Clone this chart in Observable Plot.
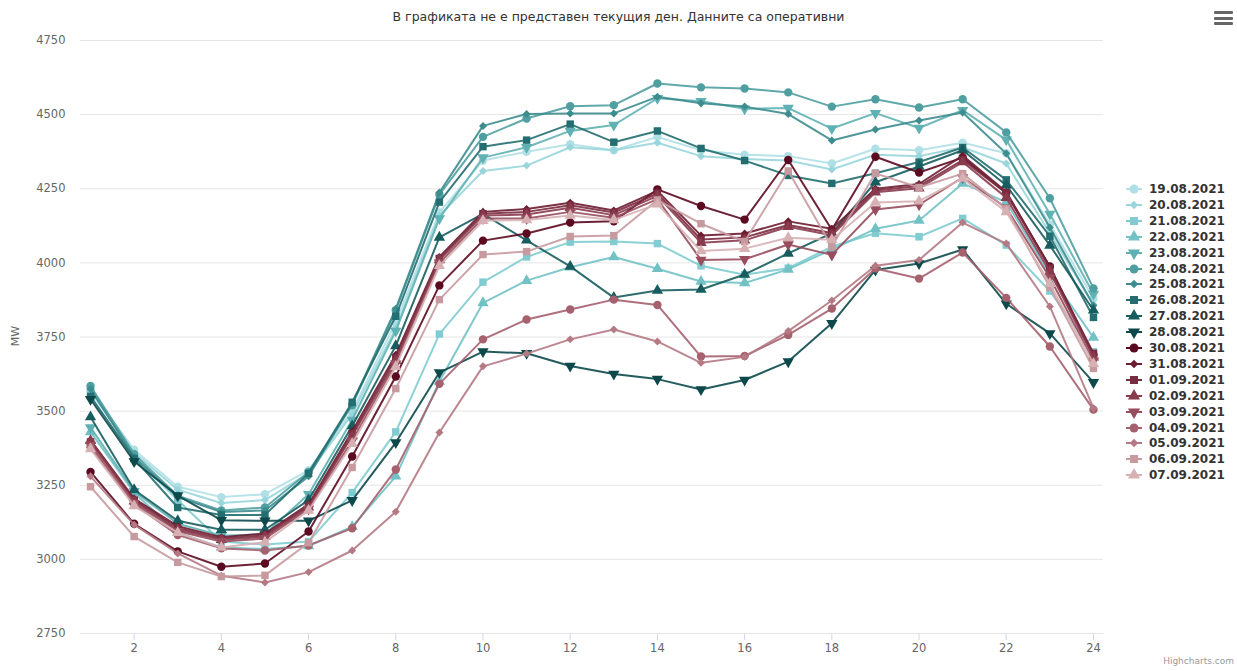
<!DOCTYPE html>
<html><head><meta charset="utf-8">
<script src="https://cdn.jsdelivr.net/npm/d3@7"></script>
<script src="https://cdn.jsdelivr.net/npm/@observablehq/plot@0.6"></script>
<style>
body{margin:0;background:#fff;font-family:"DejaVu Sans",sans-serif;}
#wrap{position:relative;width:1237px;height:671px;overflow:hidden;background:#fff;}
#chart{position:absolute;left:0;top:0;}
#title{position:absolute;left:0;width:1237px;top:9px;text-align:center;font-size:12.5px;color:#333;}
#ylab{position:absolute;left:15px;top:336px;transform:translate(-50%,-50%) rotate(-90deg);font-size:11px;color:#666;}
#menu{position:absolute;left:1214px;top:11px;width:19px;}
#menu div{height:3px;background:#666;margin-bottom:2.5px;border-radius:1px;}
#credit{position:absolute;right:3px;top:656px;font-size:9px;color:#999;}
.lg{position:absolute;left:1124px;height:16px;display:flex;align-items:center;font-weight:bold;font-size:12px;color:#333;white-space:nowrap;}
.lg svg{margin-right:5px;}
[aria-label="x-axis tick"] path{stroke:#ccd6eb;}
</style></head><body>
<div id="wrap">
<div id="chart"></div>
<div id="title">В графиката не е представен текущия ден. Данните са оперативни</div>
<div id="ylab">MW</div>
<div id="menu"><div></div><div></div><div></div></div>
<div id="legend"></div>
<div id="credit">Highcharts.com</div>
</div>
<script>
const hours = [1,2,3,4,5,6,7,8,9,10,11,12,13,14,15,16,17,18,19,20,21,22,23,24];
const yTicks = [2750,3000,3250,3500,3750,4000,4250,4500,4750];
const xTicks = [2,4,6,8,10,12,14,16,18,20,22,24];
const seriesNames = ["19.08.2021","20.08.2021","21.08.2021","22.08.2021","23.08.2021","24.08.2021","25.08.2021","26.08.2021","27.08.2021","28.08.2021","30.08.2021","31.08.2021","01.09.2021","02.09.2021","03.09.2021","04.09.2021","05.09.2021","06.09.2021","07.09.2021"];

const d19_08 = [3570,3370,3245,3210,3220,3300,3500,3800,4170,4345,4375,4400,4380,4425,4380,4365,4360,4335,4385,4380,4405,4370,4130,3880];
const d20_08 = [3565,3360,3235,3190,3200,3290,3490,3780,4160,4310,4328,4390,4380,4405,4360,4350,4345,4315,4365,4360,4390,4335,4100,3860];
const d21_08 = [3575,3345,3200,3060,3050,3060,3225,3430,3760,3935,4020,4070,4072,4065,3990,3960,3982,4055,4100,4088,4150,4060,3905,3700];
const d22_08 = [3430,3225,3090,3040,3035,3045,3110,3280,3600,3865,3940,3985,4020,3980,3937,3932,3978,4045,4115,4143,4268,4205,3960,3748];
const d23_08 = [3445,3230,3120,3080,3085,3220,3470,3770,4150,4355,4390,4445,4465,4555,4545,4520,4522,4453,4505,4455,4515,4415,4165,3895];
const d24_08 = [3585,3355,3215,3165,3175,3295,3520,3840,4230,4425,4487,4528,4532,4605,4592,4588,4575,4527,4552,4524,4552,4440,4218,3914];
const d25_08 = [3575,3345,3210,3160,3165,3280,3525,3845,4237,4462,4502,4504,4504,4560,4538,4527,4502,4413,4450,4480,4507,4369,4119,3856];
const d26_08 = [3550,3340,3175,3150,3150,3290,3530,3820,4205,4392,4414,4468,4407,4445,4386,4345,4295,4268,4302,4340,4389,4280,4090,3816];
const d27_08 = [3480,3235,3130,3100,3100,3200,3450,3720,4086,4165,4076,3988,3883,3907,3910,3961,4032,4100,4272,4325,4380,4262,4059,3840];
const d28_08 = [3540,3330,3215,3132,3130,3130,3199,3394,3630,3701,3695,3652,3625,3608,3573,3605,3667,3796,3976,3998,4045,3862,3762,3597];
const d30_08 = [3295,3120,3027,2975,2986,3094,3347,3617,3924,4075,4099,4136,4140,4248,4192,4146,4347,4112,4358,4305,4355,4235,3988,3690];
const d31_08 = [3402,3205,3112,3075,3087,3186,3432,3690,4020,4172,4182,4203,4177,4243,4092,4099,4140,4115,4250,4266,4362,4240,3985,3686];
const d01_09 = [3396,3200,3106,3070,3081,3181,3422,3680,4015,4166,4172,4194,4170,4234,4079,4086,4128,4101,4244,4259,4347,4236,3982,3695];
const d02_09 = [3400,3196,3100,3066,3076,3176,3416,3670,4010,4160,4163,4186,4161,4226,4068,4076,4122,4093,4238,4252,4340,4220,3970,3682];
const d03_09 = [3386,3190,3095,3060,3070,3170,3400,3660,4000,4150,4150,4172,4152,4215,4010,4012,4062,4027,4180,4196,4288,4186,3950,3670];
const d04_09 = [3378,3186,3082,3037,3030,3047,3105,3303,3592,3742,3809,3843,3876,3858,3684,3686,3757,3846,3981,3947,4035,3882,3718,3505];
const d05_09 = [3280,3117,3020,2945,2922,2957,3030,3161,3428,3651,3694,3742,3775,3735,3663,3683,3770,3873,3990,4010,4136,4065,3853,3510];
const d06_09 = [3245,3077,2990,2942,2946,3056,3310,3576,3876,4028,4038,4089,4092,4212,4132,4072,4310,4055,4302,4254,4301,4183,3918,3644];
const d07_09 = [3372,3180,3090,3040,3058,3165,3390,3650,3990,4142,4145,4160,4145,4198,4040,4048,4085,4078,4204,4208,4285,4172,3930,3660];

const seriesValues = [d19_08,d20_08,d21_08,d22_08,d23_08,d24_08,d25_08,d26_08,d27_08,d28_08,d30_08,d31_08,d01_09,d02_09,d03_09,d04_09,d05_09,d06_09,d07_09];

// styles
const colors = ["#b0e0e5","#98d6db","#80ccd1","#72c2c5","#60b1b3","#4f9fa1","#3d8c8e","#236e70","#175c5e","#0d494b","#5c0a20","#6d1b30","#7b2b3f","#893b4e","#974d5d","#a5616e","#b47983","#c79aa0","#d7b0b4"];
const symbolCycle = ["circle","diamond2","square","triangle","triangle-down"];

const marks = [Plot.ruleY(yTicks, {stroke:"#e6e6e6", strokeWidth:1})];
seriesNames.forEach((name, i) => {
  const rows = hours.map((h, j) => ({hour: h, v: seriesValues[i][j]}));
  const s = symbolCycle[i % 5];
  const sym = s === "triangle-down" ? "triangle" : s;
  const rot = s === "triangle-down" ? 180 : 0;
  marks.push(Plot.line(rows, {x:"hour", y:"v", stroke: colors[i], strokeWidth: 2, strokeOpacity: 0.9}));
  marks.push(Plot.dot(rows, {x:"hour", y:"v", fill: colors[i], stroke: "none", r: s === "diamond2" ? 3.6 : 4.2, symbol: sym, rotate: rot}));
});

const chart = Plot.plot({
  width: 1237, height: 671,
  marginLeft: 80, marginRight: 134, marginTop: 40, marginBottom: 38,
  style: {fontSize: "11.5px", color: "#666", fontFamily: "DejaVu Sans, sans-serif", background: "transparent"},
  x: {domain: [0.77, 24.23], ticks: xTicks, tickSize: 7, tickPadding: 3, label: null, tickFormat: d => String(d)},
  y: {domain: [2750, 4750], ticks: yTicks, tickSize: 0, tickPadding: 15, label: null, tickFormat: d => String(d)},
  marks
});
document.getElementById("chart").appendChild(chart);

// legend
const lg = d3.select("#legend");
seriesNames.forEach((name, i) => {
  const s = symbolCycle[i % 5];
  const row = lg.append("div").attr("class","lg").style("top", (181 + i*15.9) + "px");
  const svg = row.append("svg").attr("width", 20).attr("height", 14);
  svg.append("line").attr("x1",2).attr("x2",18).attr("y1",7).attr("y2",7).attr("stroke",colors[i]).attr("stroke-width",2);
  const type = {circle: d3.symbolCircle, diamond2: d3.symbolDiamond2, square: d3.symbolSquare, triangle: d3.symbolTriangle, "triangle-down": d3.symbolTriangle}[s];
  svg.append("path").attr("d", d3.symbol(type, s === "diamond2" ? 45 : 64)())
    .attr("transform", `translate(10,7)${s === "triangle-down" ? " rotate(180)" : ""}`)
    .attr("fill", colors[i]);
  row.append("span").text(name);
});
</script>
</body></html>
